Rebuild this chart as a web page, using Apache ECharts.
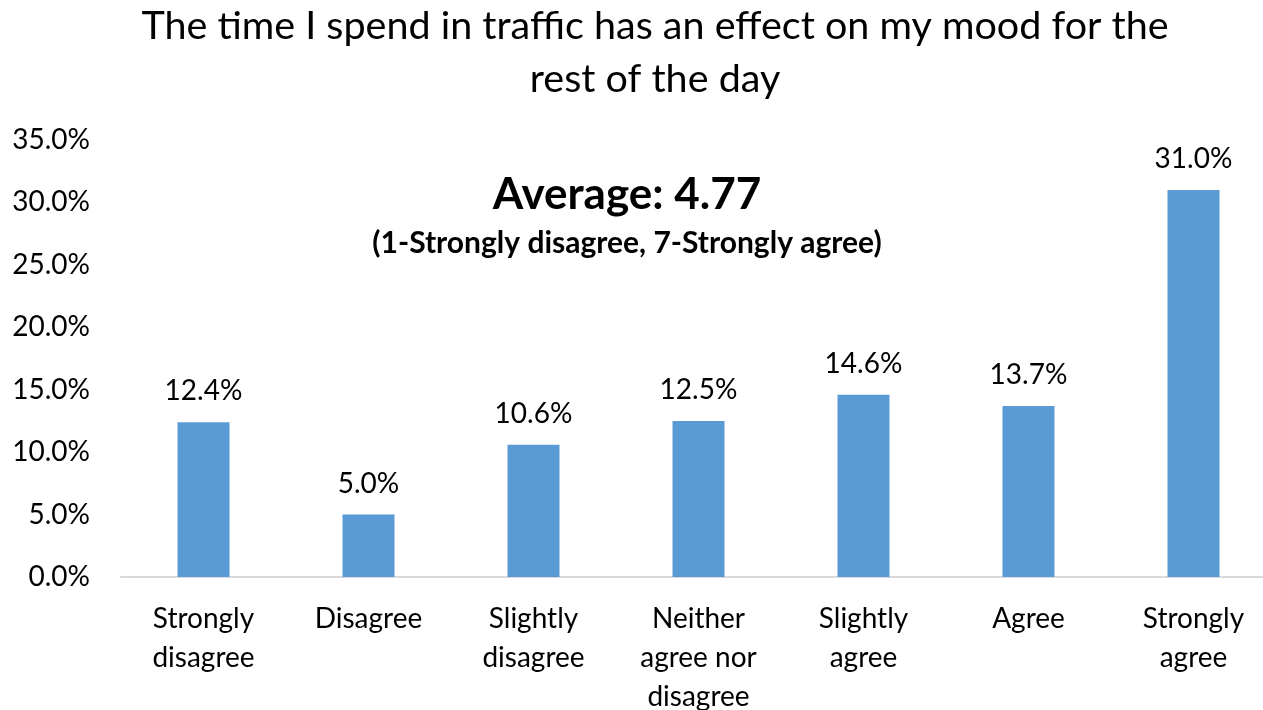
<!DOCTYPE html>
<html>
<head>
<meta charset="utf-8">
<script src="https://cdn.jsdelivr.net/npm/echarts@6/dist/echarts.min.js"></script>
<style>html,body{margin:0;padding:0;background:#fff}#c{width:1263px;height:710px}</style>
</head>
<body>
<div id="c"></div>
<script>
const categories = ["Strongly\ndisagree", "Disagree", "Slightly\ndisagree", "Neither\nagree nor\ndisagree", "Slightly\nagree", "Agree", "Strongly\nagree"];
const values = [12.4, 5.0, 10.6, 12.5, 14.6, 13.7, 31.0];
const titleText = "The time I spend in traffic has an effect on my mood for the\nrest of the day";
const averageText = "Average: 4.77";
const scaleText = "(1-Strongly disagree, 7-Strongly agree)";

const FONT = "Lato, 'Open Sans', sans-serif";
const chart = echarts.init(document.getElementById('c'), null, {renderer: 'canvas'});
chart.setOption({
  animation: false,
  backgroundColor: '#fff',
  title: {
    text: titleText,
    left: 650, top: -5, textAlign: 'center',
    textStyle: {fontFamily: FONT, fontSize: 39.5, fontWeight: 'normal', color: '#000', lineHeight: 53}
  },
  graphic: [
    {type: 'text', style: {text: averageText, x: 627, y: 195, textAlign: 'center', textVerticalAlign: 'middle', font: "bold 44px " + FONT, fill: '#000'}},
    {type: 'text', style: {text: scaleText, x: 627, y: 243, textAlign: 'center', textVerticalAlign: 'middle', font: "bold 30px " + FONT, fill: '#000'}}
  ],
  grid: {left: 121, right: -13, top: 140, bottom: 133, containLabel: false, outerBoundsMode: 'none'},
  xAxis: {
    type: 'category', data: categories,
    axisLine: {lineStyle: {color: '#d9d9d9', width: 2}},
    axisTick: {show: false},
    axisLabel: {interval: 0, margin: 22, fontFamily: FONT, fontSize: 28, color: '#000', lineHeight: 39}
  },
  yAxis: {
    type: 'value', min: 0, max: 35, interval: 5,
    splitLine: {show: false}, axisLine: {show: false}, axisTick: {show: false},
    axisLabel: {margin: 31, fontFamily: FONT, fontSize: 28, color: '#000', formatter: v => v.toFixed(1) + '%'}
  },
  series: [{
    type: 'bar', data: values, barWidth: 52,
    itemStyle: {color: '#5b9bd5'},
    label: {show: true, position: 'top', distance: 17, fontFamily: FONT, fontSize: 28, color: '#000', formatter: p => p.value.toFixed(1) + '%'}
  }]
});
</script>
</body>
</html>
